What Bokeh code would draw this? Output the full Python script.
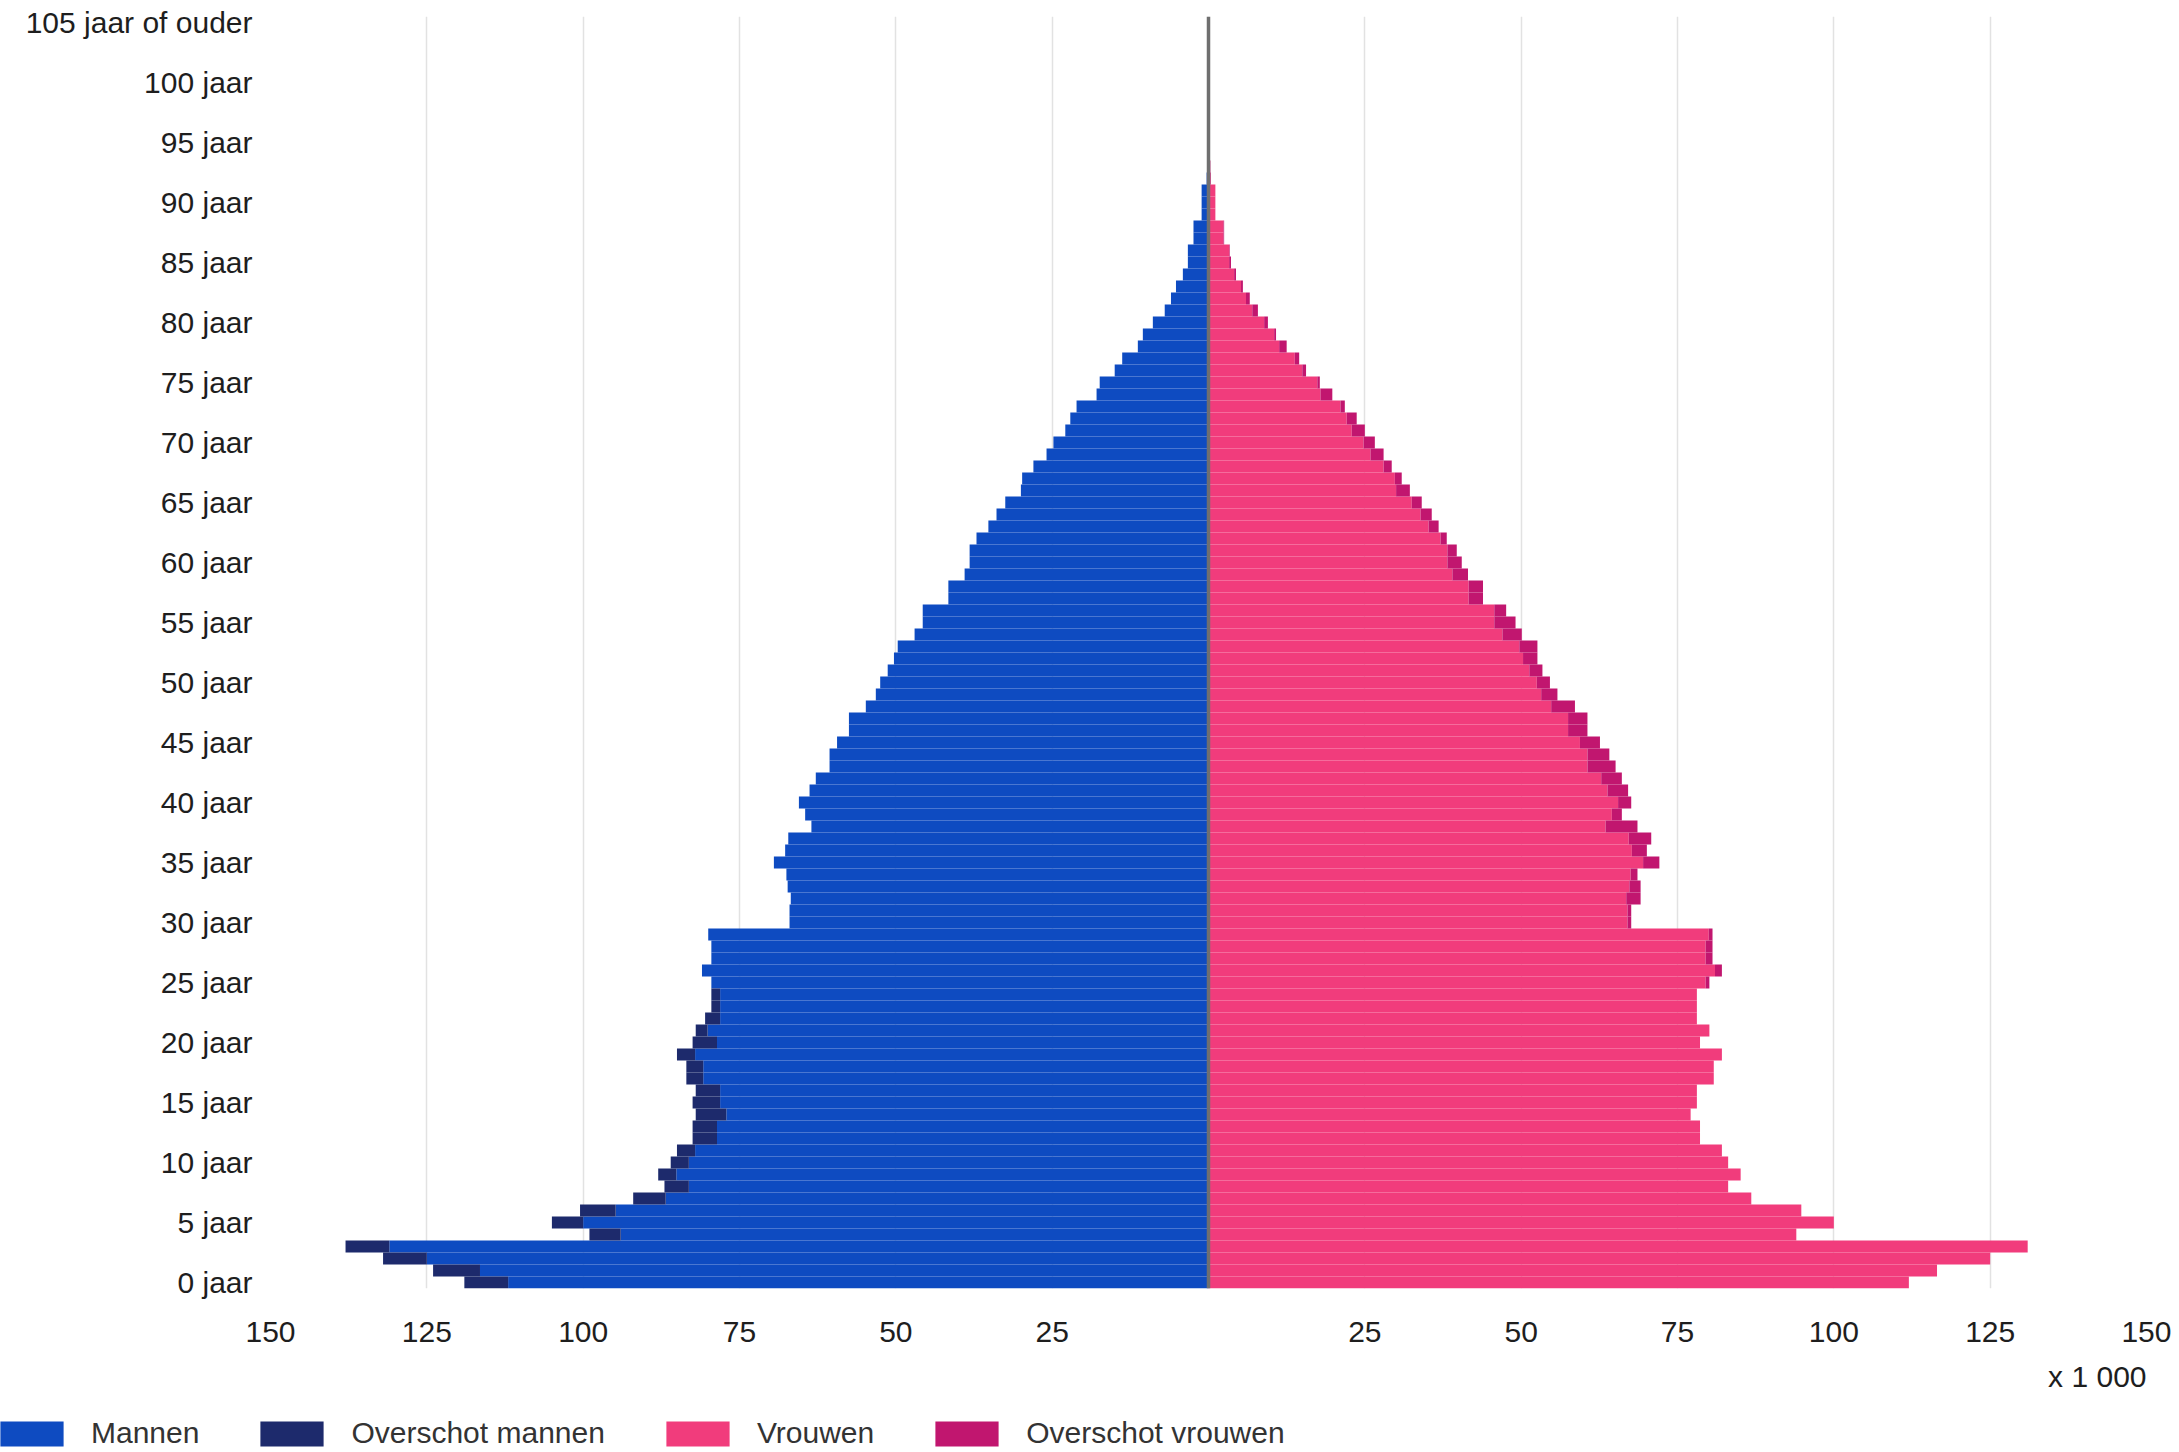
from bokeh.plotting import figure
from bokeh.models import (Range1d, FixedTicker, Span, Label, Legend, LegendItem,
                          ColumnDataSource)
from bokeh.embed import file_html
from bokeh.resources import INLINE

# ---------------- data (x 1 000 persons) ----------------
ages = list(range(106))

men = [
    119.0, 124.0, 132.0, 138.0, 99.0, 105.0, 100.5, 92.0, 87.0, 88.0,      # 0-9
    86.0, 85.0, 82.5, 82.5, 82.0, 82.5, 82.0, 83.5, 83.5, 85.0,            # 10-19
    82.5, 82.0, 80.5, 79.5, 79.5, 79.5, 81.0, 79.5, 79.5, 80.0,            # 20-29
    67.0, 67.0, 66.8, 67.3, 67.5, 69.5, 67.7, 67.2, 63.5, 64.5,            # 30-39
    65.5, 63.8, 62.8, 60.6, 60.6, 59.4, 57.5, 57.5, 54.8, 53.2,            # 40-49
    52.5, 51.3, 50.3, 49.7, 47.0, 45.7, 45.7, 41.6, 41.6, 39.0,            # 50-59
    38.2, 38.2, 37.1, 35.2, 33.9, 32.5, 30.0, 29.8, 28.0, 25.9,            # 60-69
    24.8, 22.9, 22.1, 21.1, 17.9, 17.4, 15.0, 13.8, 11.3, 10.5,            # 70-79
    8.9, 7.0, 6.0, 5.2, 4.1, 3.3, 3.3, 2.4, 2.4, 1.1,                      # 80-89
    1.1, 1.1, 0.3, 0.2, 0.15, 0.1, 0.08, 0.05, 0.03, 0.02,                 # 90-99
    0.01, 0.01, 0.0, 0.0, 0.0, 0.0,                                        # 100-105
]

women = [
    112.0, 116.5, 125.0, 131.0, 94.0, 100.0, 94.8, 86.8, 83.1, 85.1,       # 0-9
    83.1, 82.1, 78.6, 78.6, 77.1, 78.1, 78.1, 80.8, 80.8, 82.1,            # 10-19
    78.6, 80.1, 78.1, 78.1, 78.1, 80.1, 82.1, 80.6, 80.6, 80.6,            # 20-29
    67.6, 67.6, 69.1, 69.1, 68.6, 72.1, 70.1, 70.8, 68.6, 66.1,            # 30-39
    67.6, 67.1, 66.1, 65.1, 64.1, 62.6, 60.6, 60.6, 58.6, 55.8,            # 40-49
    54.6, 53.4, 52.6, 52.6, 50.1, 49.1, 47.6, 43.9, 43.9, 41.5,            # 50-59
    40.5, 39.7, 38.1, 36.8, 35.7, 34.1, 32.2, 30.9, 29.3, 28.0,            # 60-69
    26.6, 25.0, 23.7, 21.8, 19.8, 17.8, 15.6, 14.5, 12.5, 10.8,            # 70-79
    9.5, 7.9, 6.6, 5.5, 4.4, 3.6, 3.4, 2.5, 2.5, 1.1,                      # 80-89
    1.1, 1.1, 0.4, 0.3, 0.2, 0.15, 0.1, 0.07, 0.05, 0.03,                  # 90-99
    0.02, 0.01, 0.01, 0.0, 0.0, 0.0,                                       # 100-105
]

age_ticks = [0, 5, 10, 15, 20, 25, 30, 35, 40, 45, 50, 55, 60, 65, 70, 75,
             80, 85, 90, 95, 100, 105]
age_tick_labels = ["0 jaar", "5 jaar", "10 jaar", "15 jaar", "20 jaar",
                   "25 jaar", "30 jaar", "35 jaar", "40 jaar", "45 jaar",
                   "50 jaar", "55 jaar", "60 jaar", "65 jaar", "70 jaar",
                   "75 jaar", "80 jaar", "85 jaar", "90 jaar", "95 jaar",
                   "100 jaar", "105 jaar of ouder"]

x_ticks = [-150, -125, -100, -75, -50, -25, 0, 25, 50, 75, 100, 125, 150]
x_tick_labels = ["150", "125", "100", "75", "50", "25", "", "25", "50",
                 "75", "100", "125", "150"]

series_names = ["Mannen", "Overschot mannen", "Vrouwen", "Overschot vrouwen"]
series_colors = ["#0E4BC1", "#1D2A6C", "#F13C7C", "#C1166F"]
unit_label = "x 1 000"

# ---------------- derived columns ----------------
common = [min(m, w) for m, w in zip(men, women)]
src = ColumnDataSource(dict(
    age=ages,
    men_common=[-c for c in common],
    men_total=[-m for m in men],
    women_common=common,
    women_total=women,
    zero=[0] * len(ages),
))

FONT = "Liberation Sans"
FS = "30px"
TXT = "#1e1e1e"

# layout in pixels
LEFT, RIGHT, TOP = 270, 25, 16
FRAME_W, FRAME_H = 1876, 1272
W = LEFT + FRAME_W + RIGHT
H1 = 1350
H2 = 100
px_per_unit = FRAME_W / (x_ticks[-1] - x_ticks[0])

p = figure(width=W, height=H1, output_backend="svg", toolbar_location=None,
           x_range=Range1d(x_ticks[0], x_ticks[-1]), y_range=Range1d(-0.5, 105.5),
           min_border_left=LEFT, min_border_right=RIGHT, min_border_top=TOP,
           min_border_bottom=H1 - TOP - FRAME_H)
p.outline_line_color = None
p.background_fill_color = "white"
p.border_fill_color = "white"

r_m = p.hbar(y="age", left="men_common", right="zero", height=1.0, source=src,
             fill_color=series_colors[0], line_color=None)
r_mo = p.hbar(y="age", left="men_total", right="men_common", height=1.0, source=src,
              fill_color=series_colors[1], line_color=None)
r_w = p.hbar(y="age", left="zero", right="women_common", height=1.0, source=src,
             fill_color=series_colors[2], line_color=None)
r_wo = p.hbar(y="age", left="women_common", right="women_total", height=1.0,
              source=src, fill_color=series_colors[3], line_color=None)

# central axis line
p.add_layout(Span(location=0, dimension="height", line_color="#6f6f6f",
                  line_width=3.5))

# x axis
xa = p.xaxis[0]
xa.ticker = FixedTicker(ticks=x_ticks)
xa.major_label_overrides = {t: lab for t, lab in zip(x_ticks, x_tick_labels)}
xa.axis_line_color = None
xa.major_tick_line_color = None
xa.minor_tick_line_color = None
xa.major_label_standoff = 27
xa.major_label_text_font = FONT
xa.major_label_text_font_size = FS
xa.major_label_text_color = TXT

# y axis
ya = p.yaxis[0]
ya.ticker = FixedTicker(ticks=age_ticks)
ya.major_label_overrides = {t: lab for t, lab in zip(age_ticks, age_tick_labels)}
ya.axis_line_color = None
ya.major_tick_line_color = None
ya.minor_tick_line_color = None
ya.major_label_standoff = 12
ya.major_label_text_font = FONT
ya.major_label_text_font_size = FS
ya.major_label_text_color = TXT

# grid
p.xgrid.ticker = FixedTicker(ticks=x_ticks)
p.xgrid.grid_line_color = "#e2e2e2"
p.xgrid.grid_line_width = 1.5
p.ygrid.grid_line_color = None

# ---------------- footer figure: unit note + legend ----------------
xs = x_ticks[0] - LEFT / px_per_unit          # same horizontal scale as the chart
q = figure(width=W, height=H2, output_backend="svg", toolbar_location=None,
           x_range=Range1d(xs, xs + W / px_per_unit), y_range=Range1d(0, 1),
           x_axis_type=None, y_axis_type=None, min_border=0)
q.outline_line_color = None
q.xgrid.grid_line_color = None
q.ygrid.grid_line_color = None

q.add_layout(Label(x=x_ticks[-1], y=H2 - 26, y_units="screen", text=unit_label,
                   text_align="right", text_baseline="middle", text_font=FONT,
                   text_font_size=FS, text_color=TXT))

lr = [q.hbar(y=[-10], left=[0], right=[1], height=1.0, fill_color=c, line_color=None)
      for c in series_colors]
legend = Legend(items=[LegendItem(label=n, renderers=[r]) for n, r in zip(series_names, lr)],
                orientation="horizontal", location=(-8, 0),
                glyph_width=79, glyph_height=31, label_standoff=20, spacing=53,
                padding=0, margin=0, border_line_color=None,
                background_fill_alpha=0, label_text_font=FONT,
                label_text_font_size=FS, label_text_color="#333333",
                label_height=31)
q.add_layout(legend)

# two independent roots, stacked on the page (keeps the footer's frame unaligned)
open("out.html", "w").write(file_html([p, q], INLINE))
